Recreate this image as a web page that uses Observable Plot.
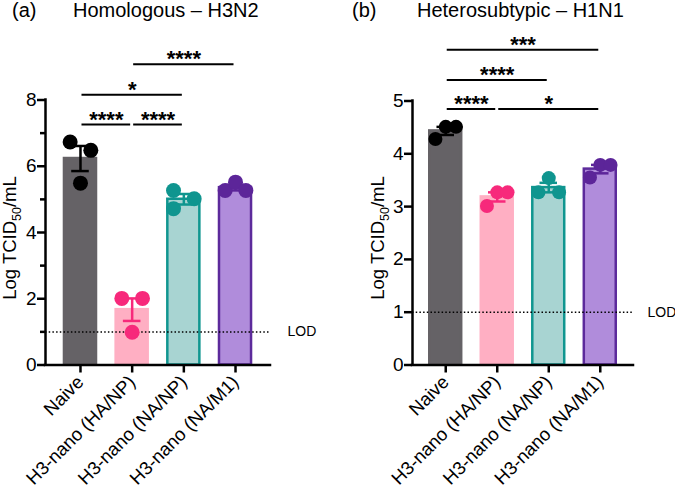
<!DOCTYPE html>
<html><head><meta charset="utf-8">
<script src="https://cdn.jsdelivr.net/npm/d3@7"></script>
<script src="https://cdn.jsdelivr.net/npm/@observablehq/plot@0.6"></script>
<style>
body{margin:0;background:#fff;font-family:"Liberation Sans",Arial,Helvetica,sans-serif;}
#wrap{position:relative;width:675px;height:488px;overflow:hidden;background:#fff}
.panel{position:absolute;top:0}
.title{position:absolute;top:0;font-size:20px;line-height:1;color:#000;white-space:nowrap}
</style></head><body>
<div id="wrap">
  <div id="pa" class="panel" style="left:0"></div>
  <div id="pb" class="panel" style="left:337px"></div>
  <div class="title" style="left:12px">(a)</div>
  <div class="title" style="left:73px">Homologous – H3N2</div>
  <div class="title" style="left:352px">(b)</div>
  <div class="title" style="left:417px">Heterosubtypic – H1N1</div>
</div>
<script>
// ---- data ----
const groups = ["Naive", "H3-nano (HA/NP)", "H3-nano (NA/NP)", "H3-nano (NA/M1)"];

// panel (a) Homologous – H3N2: individual log TCID50/mL values per group
const h3n2Values = [[6.73, 6.48, 5.49], [2.01, 2.01, 0.99], [5.27, 5.02, 4.72], [5.27, 5.52, 5.27]];
const h3n2Side   = [[-1, 1, 0], [-1, 1, 0], [-1, 1, -1], [-1, 0, 1]];
const h3n2SigFrom  = [0, 1, 0, 1];
const h3n2SigTo    = [1, 2, 2, 3];
const h3n2SigLevel = [7.26, 7.26, 8.16, 9.08];
const h3n2SigLabel = ["****", "****", "*", "****"];
const h3n2Ticks = [0, 2, 4, 6, 8];
const h3n2Minor = [1, 3, 5, 7];

// panel (b) Heterosubtypic – H1N1
const h1n1Values = [[4.28, 4.51, 4.51], [3.01, 3.27, 3.27], [3.27, 3.54, 3.27], [3.55, 3.79, 3.79]];
const h1n1Side   = [[-1, 0, 1], [-1, 0, 1], [-1, 0, 1], [-1, 0, 1]];
const h1n1SigFrom  = [0, 1, 0, 0];
const h1n1SigTo    = [1, 3, 2, 3];
const h1n1SigLevel = [4.85, 4.85, 5.40, 5.97];
const h1n1SigLabel = ["****", "*", "****", "***"];
const h1n1Ticks = [0, 1, 2, 3, 4, 5];

const lod = 1;

// ---- styles ----
const barFill   = ["#656266", "#ffafc3", "#a8d4d2", "#b08cdb"];
const barStroke = ["#656266", "#ffafc3", "#109690", "#5c2a9b"];
const dotColor  = ["#000000", "#f7297b", "#0f958f", "#5c2599"];
const FONT = '"Liberation Sans", Arial, Helvetica, sans-serif';

function panel(cfg) {
  const pts = [];
  cfg.values.forEach((vs, i) => vs.forEach((v, k) => pts.push({i, v, side: cfg.side[i][k]})));
  const stats = cfg.values.map((vs, i) => {
    const m = d3.mean(vs), se = d3.deviation(vs) / Math.sqrt(vs.length);
    return {i, m, lo: m - se, hi: m + se};
  });
  const sig = cfg.sigFrom.map((f, k) => ({from: f, to: cfg.sigTo[k], level: cfg.sigLevel[k], label: cfg.sigLabel[k]}));
  const [x0, x1] = cfg.xDomain;
  const yMax = cfg.ticks[cfg.ticks.length - 1];
  const hw = 0.31, cap = 0.17, off = 0.2;
  const marks = [
    Plot.rectY(stats, {x1: d => d.i - hw, x2: d => d.i + hw, y1: 0, y2: "m",
      fill: d => barFill[d.i], stroke: d => barStroke[d.i], strokeWidth: 2.5}),
    Plot.ruleY([lod], {stroke: "#000", strokeWidth: 1.5, strokeDasharray: "1.5,2.2"}),
    Plot.text(["LOD"], {x: x1, y: lod, text: d => d, dx: cfg.lodDx, textAnchor: "start", fontSize: 14, fill: "#000"}),
    Plot.ruleX(stats, {x: "i", y1: "lo", y2: "hi", stroke: d => dotColor[d.i], strokeWidth: 2.5}),
    Plot.ruleY(stats, {x1: d => d.i - cap, x2: d => d.i + cap, y: "lo", stroke: d => dotColor[d.i], strokeWidth: 2.5}),
    Plot.ruleY(stats, {x1: d => d.i - cap, x2: d => d.i + cap, y: "hi", stroke: d => dotColor[d.i], strokeWidth: 2.5}),
    Plot.dot(pts, {x: d => d.i + d.side * off, y: "v", r: cfg.r, fill: d => dotColor[d.i], stroke: "none"}),
    Plot.ruleY(sig, {x1: "from", x2: "to", y: "level", stroke: "#000", strokeWidth: 2, insetLeft: 1.5, insetRight: 1.5}),
    Plot.text(sig, {x: d => (d.from + d.to) / 2, y: "level", text: "label", lineAnchor: "bottom", dy: 2,
      fontSize: 22, fontWeight: "bold", fill: "#000"}),
    Plot.ruleX([x0], {y1: 0, y2: yMax, stroke: "#000", strokeWidth: 2.5, strokeLinecap: "square"}),
    Plot.ruleY([0], {x1: x0, x2: x1, stroke: "#000", strokeWidth: 2.5, strokeLinecap: "square"}),
    Plot.axisY({ticks: cfg.ticks, tickFormat: d3.format("d"), tickSize: 8, tickPadding: 1, strokeWidth: 2.5,
      label: null, fontSize: 19, anchor: "left"}),
    Plot.axisX({ticks: [0, 1, 2, 3], tickFormat: i => groups[i], tickRotate: -45, tickSize: 8, tickPadding: 6,
      strokeWidth: 2.5, label: null, fontSize: 18.5, anchor: "bottom"})
  ];
  if (cfg.minor) marks.push(Plot.axisY({ticks: cfg.minor, tickSize: 5, tickFormat: () => "", strokeWidth: 2.5, label: null, anchor: "left"}));
  const svg = Plot.plot({
    width: cfg.width, height: 488,
    marginLeft: cfg.marginLeft, marginRight: cfg.marginRight, marginTop: cfg.marginTop, marginBottom: 123.5,
    x: {type: "linear", domain: cfg.xDomain},
    y: {type: "linear", domain: [0, yMax]},
    color: {type: "identity"},
    style: {fontFamily: FONT, fontSize: "18px", color: "#000", background: "transparent", overflow: "visible"},
    marks
  });
  const t = d3.select(svg).append("text")
    .attr("transform", `translate(${cfg.labelX},238) rotate(-90)`)
    .attr("text-anchor", "middle").attr("font-size", 18.5).attr("fill", "#000")
    .attr("font-family", FONT);
  t.append("tspan").text("Log TCID");
  t.append("tspan").text("50").attr("font-size", 12.5).attr("dy", 5);
  t.append("tspan").text("/mL").attr("dy", -5);
  return svg;
}

document.getElementById("pa").append(panel({
  values: h3n2Values, side: h3n2Side, sigFrom: h3n2SigFrom, sigTo: h3n2SigTo, sigLevel: h3n2SigLevel, sigLabel: h3n2SigLabel,
  ticks: h3n2Ticks, minor: h3n2Minor, width: 337, marginLeft: 45, marginRight: 67, marginTop: 99.5,
  xDomain: [-0.677, 3.677], r: 7.5, lodDx: 17, labelX: 15.5
}));
document.getElementById("pb").append(panel({
  values: h1n1Values, side: h1n1Side, sigFrom: h1n1SigFrom, sigTo: h1n1SigTo, sigLevel: h1n1SigLevel, sigLabel: h1n1SigLabel,
  ticks: h1n1Ticks, minor: null, width: 338, marginLeft: 75, marginRight: 42, marginTop: 100.5,
  xDomain: [-0.645, 3.645], r: 7, lodDx: 14, labelX: 47
}));
</script>
</body></html>
